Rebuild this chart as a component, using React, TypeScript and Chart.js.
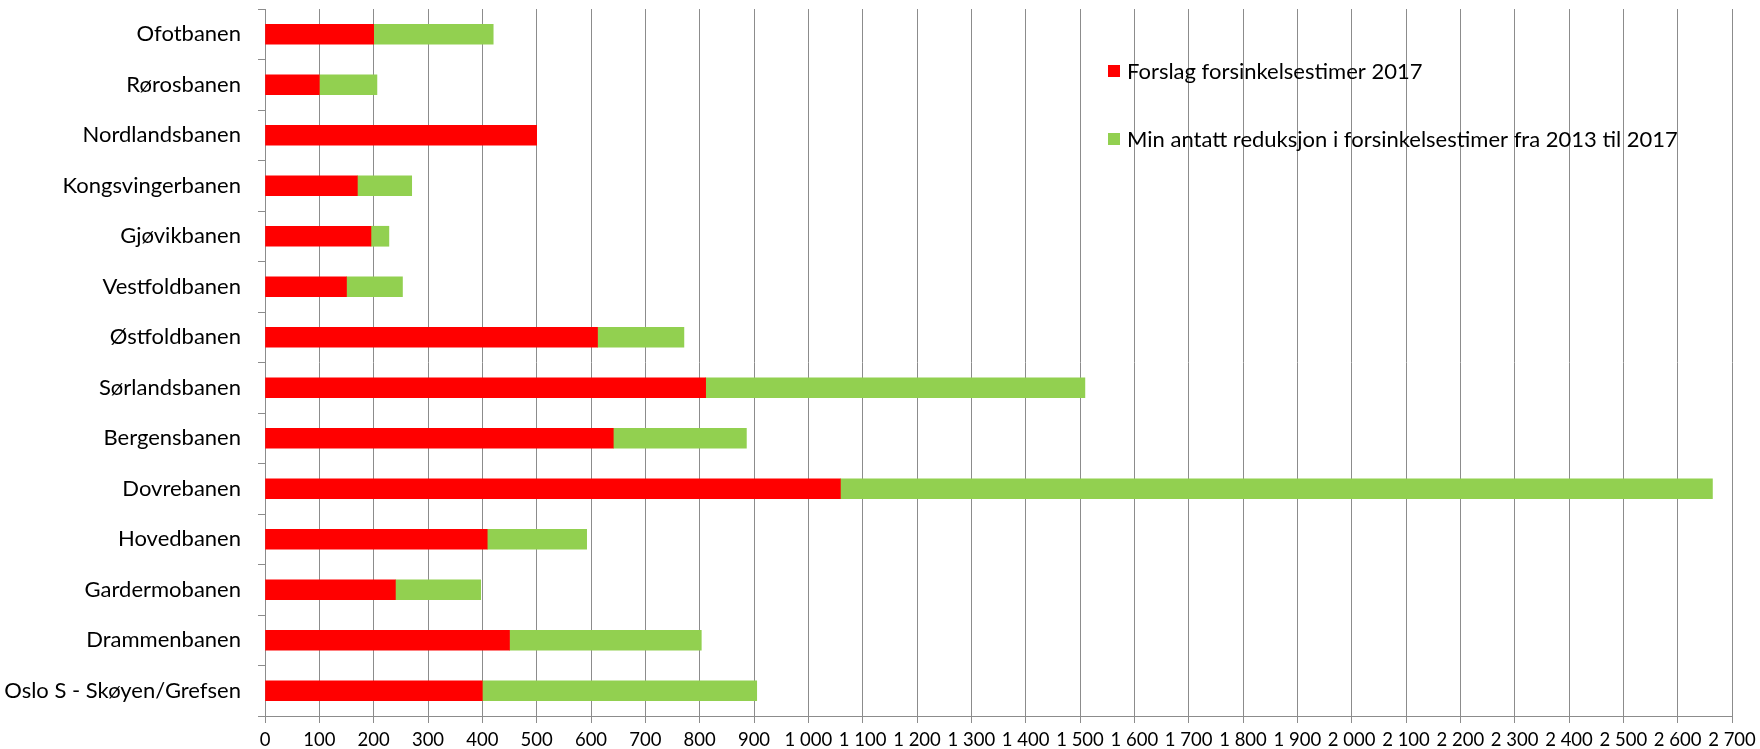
import React, { useEffect, useRef } from "react";
import { Chart, registerables } from "chart.js";

Chart.register(...registerables);

// Railway lines, listed top to bottom
const lines = [
  "Ofotbanen",
  "Rørosbanen",
  "Nordlandsbanen",
  "Kongsvingerbanen",
  "Gjøvikbanen",
  "Vestfoldbanen",
  "Østfoldbanen",
  "Sørlandsbanen",
  "Bergensbanen",
  "Dovrebanen",
  "Hovedbanen",
  "Gardermobanen",
  "Drammenbanen",
  "Oslo S - Skøyen/Grefsen",
];

// Proposed delay hours for 2017
const proposed2017 = [200, 100, 500, 170, 195, 150, 612, 811, 641, 1059, 409, 240, 450, 400];

// Assumed reduction in delay hours from 2013 to 2017
const assumedReduction = [220, 106, 0, 100, 33, 103, 159, 698, 245, 1605, 183, 157, 353, 505];

const seriesNames = [
  "Forslag forsinkelsestimer 2017",
  "Min antatt reduksjon i forsinkelsestimer fra 2013 til 2017",
];

const seriesColors = ["#FF0000", "#92D050"];

const xMax = 2700;
const xStep = 100;

const FONT = "Lato, 'Open Sans', sans-serif";
const GRID = "#8c8c8c";

// Legend drawn inside the plot area, stacked with wide row spacing
const insideLegend = {
  id: "insideLegend",
  afterDraw(chart: any) {
    const ctx = chart.ctx;
    const x = 1108;
    const rows = [71, 139];
    ctx.save();
    ctx.font = `22px ${FONT}`;
    ctx.textBaseline = "middle";
    ctx.textAlign = "left";
    chart.data.datasets.forEach((ds: any, i: number) => {
      const y = rows[i];
      ctx.fillStyle = ds.backgroundColor;
      ctx.fillRect(x, y - 6, 12, 12);
      ctx.fillStyle = "#000000";
      ctx.fillText(ds.label, x + 19, y + 1);
    });
    ctx.restore();
  },
};

function formatThousands(v: number): string {
  return String(v).replace(/\B(?=(\d{3})+(?!\d))/g, "\u00a0");
}

export default function App() {
  const canvasRef = useRef<HTMLCanvasElement | null>(null);

  useEffect(() => {
    if (!canvasRef.current) return;
    const chart = new Chart(canvasRef.current, {
      type: "bar",
      data: {
        labels: lines,
        datasets: [
          {
            label: seriesNames[0],
            data: proposed2017,
            backgroundColor: seriesColors[0],
            barThickness: 20,
          },
          {
            label: seriesNames[1],
            data: assumedReduction,
            backgroundColor: seriesColors[1],
            barThickness: 20,
          },
        ],
      },
      options: {
        indexAxis: "y",
        animation: false,
        responsive: false,
        maintainAspectRatio: false,
        layout: { padding: { top: 9, right: 28, left: 0, bottom: 0 } },
        plugins: {
          legend: { display: false },
          tooltip: { enabled: false },
        },
        scales: {
          x: {
            stacked: true,
            min: 0,
            max: xMax,
            ticks: {
              stepSize: xStep,
              color: "#000000",
              font: { family: FONT, size: 18.5 },
              padding: 6,
              maxRotation: 0,
              autoSkip: false,
              callback: (v: any) => formatThousands(Number(v)),
            },
            grid: {
              color: GRID,
              lineWidth: 1,
              drawOnChartArea: true,
              drawTicks: true,
              tickLength: 7,
            },
            border: { color: GRID, width: 1 },
            afterFit: (scale: any) => {
              scale.height = 33;
              scale.paddingLeft = 0;
              scale.paddingRight = 0;
            },
          },
          y: {
            stacked: true,
            ticks: {
              color: "#000000",
              font: { family: FONT, size: 22 },
              padding: 17,
              autoSkip: false,
            },
            grid: {
              color: GRID,
              offset: true,
              drawOnChartArea: false,
              drawTicks: true,
              tickLength: 7,
            },
            border: { color: GRID, width: 1 },
            afterFit: (scale: any) => {
              scale.width = 265;
              scale.paddingTop = 0;
              scale.paddingBottom = 0;
            },
          },
        },
      },
      plugins: [insideLegend],
    });
    return () => chart.destroy();
  }, []);

  return (
    <div style={{ position: "absolute", left: 0, top: 0, width: 1760, height: 749, background: "#ffffff" }}>
      <canvas ref={canvasRef} width={1760} height={749} style={{ display: "block" }} />
    </div>
  );
}
